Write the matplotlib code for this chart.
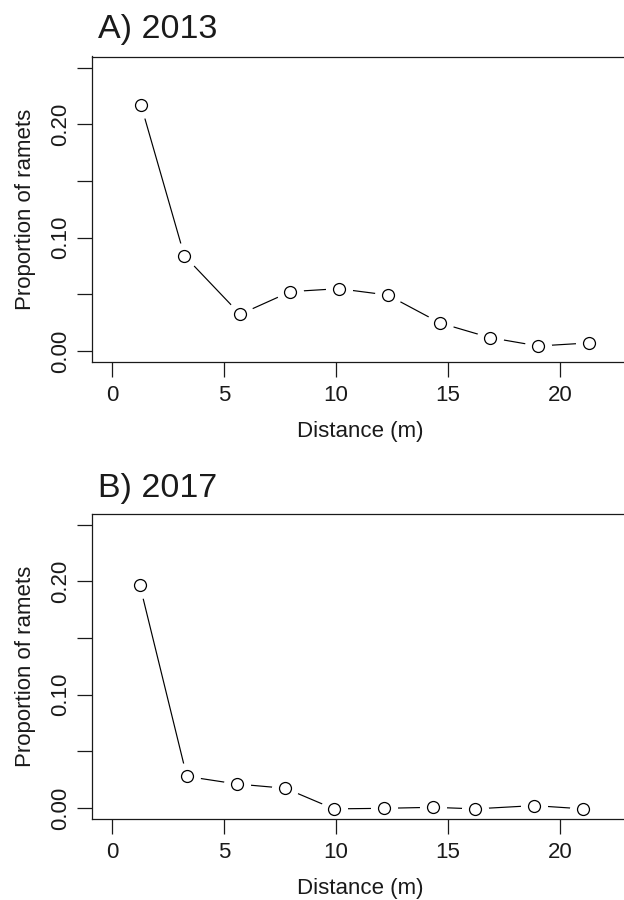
import matplotlib
matplotlib.use("Agg")
import matplotlib.pyplot as plt

# Data
dist_2013 = [1.30, 3.23, 5.72, 7.97, 10.12, 12.31, 14.65, 16.87, 19.04, 21.30]
prop_2013 = [0.2168, 0.0841, 0.0324, 0.0524, 0.0550, 0.0494, 0.0247, 0.0118, 0.0044, 0.0071]

dist_2017 = [1.24, 3.34, 5.56, 7.74, 9.91, 12.15, 14.35, 16.22, 18.85, 21.05]
prop_2017 = [0.1970, 0.0279, 0.0212, 0.0174, -0.0008, -0.0003, 0.0006, -0.0008, 0.0021, -0.0008]

titles = ["A) 2013", "B) 2017"]
xticks = [0, 5, 10, 15, 20]
yticks = [0.00, 0.05, 0.10, 0.15, 0.20, 0.25]
ytick_labels = ["0.00", "", "0.10", "", "0.20", ""]
xlabel = "Distance (m)"
ylabel = "Proportion of ramets"

plt.rcParams['font.family'] = ['Liberation Sans', 'DejaVu Sans']
TXT = "#1a1a1a"

W, H = 624, 900
fig = plt.figure(figsize=(W / 100, H / 100), dpi=100)

ax_left_px = 92.3
ax_w_px = 537.0
panels = [
    (dist_2013, prop_2013, 56.5, 362.3, 38.0),
    (dist_2017, prop_2017, 513.5, 819.3, 497.0),
]

for (xs, ys, top, bot, title_base), title in zip(panels, titles):
    ax = fig.add_axes([ax_left_px / W, (H - bot) / H, ax_w_px / W, (bot - top) / H])
    ax.set_xlim(-0.88, 23.1)
    ax.set_ylim(-0.01, 0.26)
    # connecting line
    ax.plot(xs, ys, color="black", lw=0.85, zorder=2)
    # white masks to create gaps like R type="b"
    ax.plot(xs, ys, ls="none", marker="o", ms=19.5, mfc="white", mec="white",
            mew=0, zorder=2.1)
    # open circles
    ax.plot(xs, ys, ls="none", marker="o", ms=8.6, mfc="white", mec="black",
            mew=0.9, zorder=3)
    for s in ax.spines.values():
        s.set_linewidth(0.9)
        s.set_color(TXT)
        s.set_zorder(2.5)
    ax.set_xticks(xticks)
    ax.set_xticklabels([str(t) for t in xticks])
    ax.set_yticks(yticks)
    ax.set_yticklabels(ytick_labels, rotation=90, va="center")
    ax.tick_params(axis="both", direction="out", length=10.5, width=0.9,
                   colors=TXT, labelsize=16)
    ax.tick_params(axis="x", pad=6)
    ax.tick_params(axis="y", pad=5)
    fig.text(360.7 / W, (H - (bot + 69)) / H, xlabel, fontsize=16, color=TXT,
             ha="center", va="center")
    fig.text(25 / W, (H - (top + bot) / 2) / H, ylabel, fontsize=16, color=TXT,
             ha="center", va="center", rotation=90)
    fig.text(97.5 / W, (H - title_base) / H, title, fontsize=24.5, color=TXT,
             ha="left", va="baseline")

fig.savefig("out.png", dpi=100)
